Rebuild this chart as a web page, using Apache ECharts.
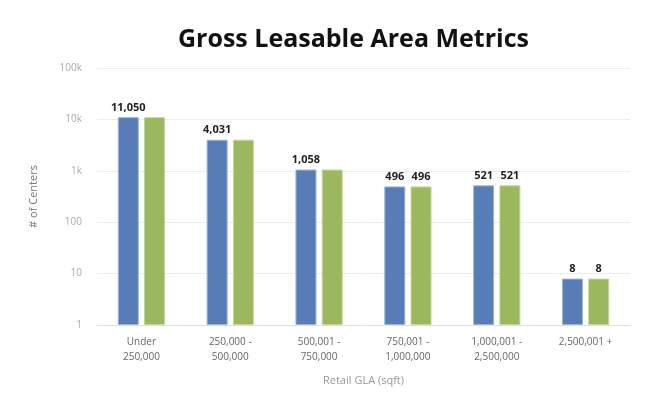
<!DOCTYPE html>
<html>
<head>
<meta charset="utf-8">
<script src="https://cdn.jsdelivr.net/npm/echarts@6/dist/echarts.min.js"></script>
<style>
  html, body { margin: 0; padding: 0; background: #fff; }
  #chart { width: 650px; height: 399px; }
</style>
</head>
<body>
<div id="chart"></div>
<script>
// categories (retail GLA buckets)
const categories = ['Under\n250,000', '250,000 -\n500,000', '500,001 -\n750,000', '750,001 -\n1,000,000', '1,000,001 -\n2,500,000', '2,500,001 +']
const blueValues = [11050, 4031, 1058, 496, 521, 8]
const greenValues = [11050, 4031, 1058, 496, 521, 8]
// green labels hidden where the source hides them
const greenLabelShown = [false, false, false, true, true, true]
const tickLabels = { 1: '1', 10: '10', 100: '100', 1000: '1k', 10000: '10k', 100000: '100k' }

const chart = echarts.init(document.getElementById('chart'))

const fmt = p => p.value.toLocaleString('en-US')
const labelStyle = {
  show: true,
  position: 'top',
  distance: 4,
  color: '#222',
  fontSize: 11,
  fontWeight: 'bold',
  fontFamily: 'Open Sans',
  formatter: fmt
}

const option = {
  animation: false,
  title: {
    text: 'Gross Leasable Area Metrics',
    left: 173,
    top: 22,
    textStyle: {
      fontFamily: 'Open Sans',
      fontWeight: 'bold',
      fontSize: 25,
      color: '#111'
    }
  },
  grid: {
    left: 97,
    right: 20,
    top: 68,
    bottom: 74
  },
  xAxis: {
    type: 'category',
    data: categories,
    name: 'Retail GLA (sqft)',
    nameLocation: 'middle',
    nameGap: 50,
    nameTextStyle: { color: '#999', fontSize: 11, fontFamily: 'Open Sans' },
    axisLine: { lineStyle: { color: '#dde0ea' } },
    axisTick: { show: false },
    axisLabel: {
      color: '#666',
      fontSize: 10,
      fontFamily: 'Open Sans',
      lineHeight: 15,
      margin: 10
    }
  },
  yAxis: {
    type: 'log',
    logBase: 10,
    min: 1,
    max: 100000,
    name: '# of Centers',
    nameLocation: 'middle',
    nameGap: 58,
    nameTextStyle: { color: '#777', fontSize: 11, fontFamily: 'Open Sans' },
    axisLine: { show: false },
    axisTick: { show: false },
    splitLine: { lineStyle: { color: '#ececec' } },
    axisLabel: {
      color: '#aaa',
      fontSize: 10,
      fontFamily: 'Open Sans',
      margin: 15,
      formatter: v => tickLabels[Math.round(v)] || ''
    }
  },
  series: [
    {
      type: 'bar',
      data: blueValues,
      barWidth: 21,
      barGap: '25%',
      itemStyle: { color: '#587db6', borderColor: '#9db3d8', borderWidth: 1 },
      label: labelStyle
    },
    {
      type: 'bar',
      data: greenValues.map((v, i) => ({ value: v, label: { show: greenLabelShown[i] } })),
      barWidth: 21,
      itemStyle: { color: '#9bb85e', borderColor: '#c3d69c', borderWidth: 1 },
      label: labelStyle
    }
  ]
}

chart.setOption(option)
</script>
</body>
</html>
